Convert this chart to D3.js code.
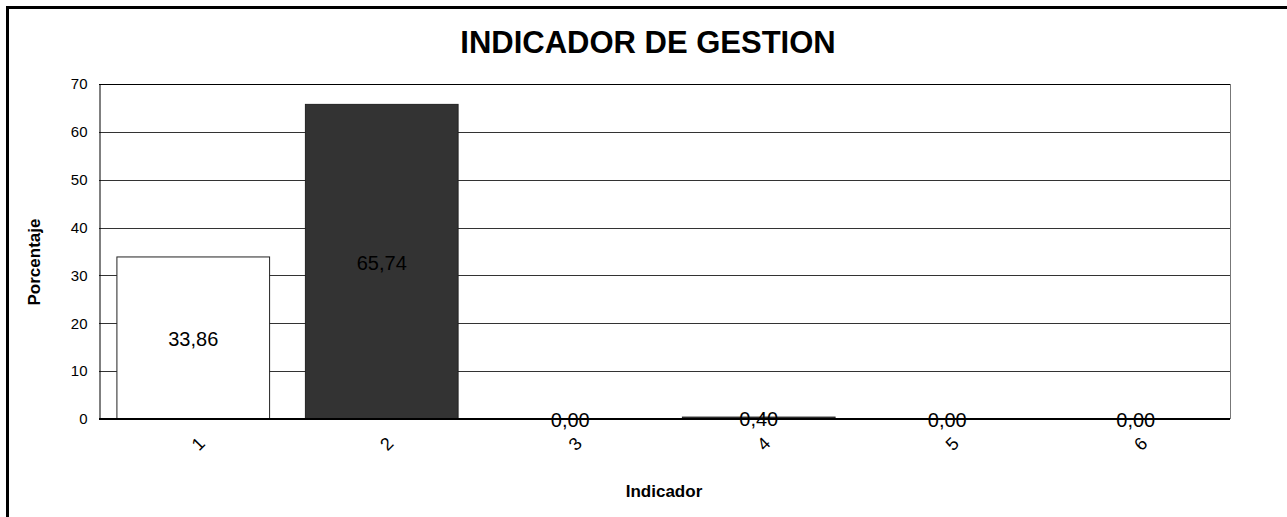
<!DOCTYPE html>
<html>
<head>
<meta charset="utf-8">
<script src="https://cdn.jsdelivr.net/npm/d3@7"></script>
<style>
html,body{margin:0;padding:0;background:#fff;}
svg{display:block;font-family:"Liberation Sans",Arial,sans-serif;}
</style>
</head>
<body>
<svg id="chart" width="1287" height="517"></svg>
<script>
const categories = ["1","2","3","4","5","6"];
const values = [33.86, 65.74, 0.00, 0.40, 0.00, 0.00];
const barColors = ["#ffffff","#333333","#ffffff","#333333","#ffffff","#333333"];
const yTicks = [0,10,20,30,40,50,60,70];
const title = "INDICADOR DE GESTION";
const xTitle = "Indicador";
const yTitle = "Porcentaje";

const svg = d3.select("#chart");
const m = {left:99, top:84, right:1230, bottom:419};

// outer frame
svg.append("rect").attr("x",7.5).attr("y",7.5).attr("width",1400).attr("height",600)
  .attr("fill","none").attr("stroke","#000").attr("stroke-width",3);

const x = d3.scaleBand().domain(categories).range([m.left,m.right]).paddingInner(0.19).paddingOuter(0.095);
const y = d3.scaleLinear().domain([0,70]).range([m.bottom,m.top]);

// gridlines
svg.append("g").selectAll("line").data(yTicks.filter(t=>t>0 && t<70)).join("line")
  .attr("x1",m.left).attr("x2",m.right)
  .attr("y1",d=>Math.round(y(d))+0.5).attr("y2",d=>Math.round(y(d))+0.5)
  .attr("stroke","#333").attr("stroke-width",1);

// plot border
svg.append("line").attr("x1",m.left).attr("x2",m.right).attr("y1",m.top+0.5).attr("y2",m.top+0.5).attr("stroke","#000");
svg.append("line").attr("x1",m.right+0.5).attr("x2",m.right+0.5).attr("y1",m.top).attr("y2",m.bottom).attr("stroke","#777");

// bars
svg.append("g").selectAll("rect").data(values).join("rect")
  .attr("x",(d,i)=>x(categories[i]))
  .attr("width",x.bandwidth())
  .attr("y",d=>y(d))
  .attr("height",d=>y(0)-y(d))
  .attr("fill",(d,i)=>barColors[i])
  .attr("stroke","#222").attr("stroke-width",1);

// y axis
const yAxis = d3.axisLeft(y).tickValues(yTicks).tickSize(0).tickPadding(12);
const yg = svg.append("g").attr("transform",`translate(${m.left+0.5},0)`).call(yAxis);
yg.select(".domain").attr("stroke","#000");
yg.selectAll("text").attr("font-size",15).attr("fill","#000").attr("font-family","Liberation Sans, Arial, sans-serif");

// baseline
svg.append("line").attr("x1",m.left).attr("x2",m.right).attr("y1",y(0)).attr("y2",y(0)).attr("stroke","#000").attr("stroke-width",2);

// x tick labels
svg.append("g").selectAll("text").data(categories).join("text")
  .attr("transform",d=>`translate(${x(d)+x.bandwidth()/2+5},444) rotate(-45)`)
  .attr("text-anchor","middle").attr("dominant-baseline","central")
  .attr("font-size",18).attr("fill","#000").text(d=>d);

// data labels
const fmt = d3.format(".2f");
svg.append("g").selectAll("text").data(values).join("text")
  .attr("x",(d,i)=>x(categories[i])+x.bandwidth()/2)
  .attr("y",d=>(y(d)+y(0))/2+1)
  .attr("text-anchor","middle").attr("dominant-baseline","central")
  .attr("font-size",20).attr("fill","#000")
  .text(d=>fmt(d).replace(".",","));

// titles
svg.append("text").attr("x",648).attr("y",53).attr("text-anchor","middle")
  .attr("font-size",31).attr("font-weight","bold").text(title);
svg.append("text").attr("x",664).attr("y",497).attr("text-anchor","middle")
  .attr("font-size",17).attr("font-weight","bold").text(xTitle);
svg.append("text").attr("transform","translate(40,262) rotate(-90)").attr("text-anchor","middle")
  .attr("font-size",17).attr("font-weight","bold").text(yTitle);
</script>
</body>
</html>
